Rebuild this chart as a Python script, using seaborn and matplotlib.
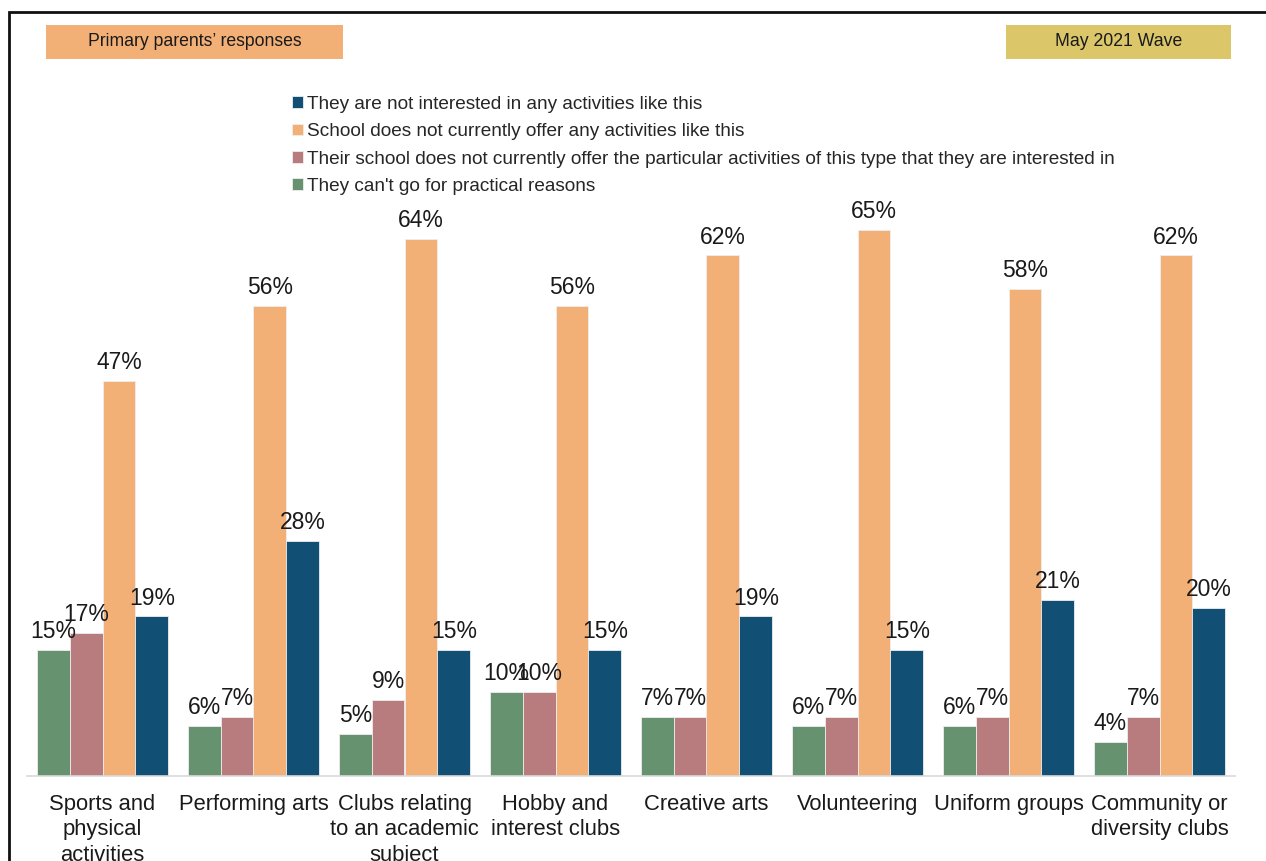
import matplotlib
matplotlib.use("Agg")
import matplotlib.pyplot as plt
from matplotlib.patches import Rectangle
import seaborn as sns
import pandas as pd

categories = [
    "Sports and\nphysical\nactivities",
    "Performing arts",
    "Clubs relating\nto an academic\nsubject",
    "Hobby and\ninterest clubs",
    "Creative arts",
    "Volunteering",
    "Uniform groups",
    "Community or\ndiversity clubs",
]
series_names = [
    "They can't go for practical reasons",
    "Their school does not currently offer the particular activities of this type that they are interested in",
    "School does not currently offer any activities like this",
    "They are not interested in any activities like this",
]
practical = [15, 6, 5, 10, 7, 6, 6, 4]
particular = [17, 7, 9, 10, 7, 7, 7, 7]
no_offer = [47, 56, 64, 56, 62, 65, 58, 62]
not_interested = [19, 28, 15, 15, 19, 15, 21, 20]
colors = ["#669270", "#B97C7E", "#F2B077", "#124F74"]

rows = []
for name, vals in zip(series_names, [practical, particular, no_offer, not_interested]):
    for cat, v in zip(categories, vals):
        rows.append({"category": cat, "reason": name, "value": v})
df = pd.DataFrame(rows)

sns.set_theme(style="white")
plt.rcParams["font.family"] = ["Liberation Sans", "DejaVu Sans"]

W, H = 1266, 861
fig = plt.figure(figsize=(W / 100, H / 100), dpi=100)
ax = fig.add_axes([27 / W, (H - 776) / H, (1235 - 27) / W, (776 - 190) / H])

sns.barplot(data=df, x="category", y="value", hue="reason", order=categories,
            hue_order=series_names, palette=colors, width=0.87, ax=ax,
            saturation=1, edgecolor="#EDEDED", linewidth=0.6, errorbar=None)

for cont in ax.containers:
    ax.bar_label(cont, labels=[f"{int(v)}%" for v in cont.datavalues],
                 padding=5, fontsize=16.5, color="#1a1a1a")

ax.set_xlim(-0.5, 7.5)
ax.set_ylim(0, 69.8)
ax.set_xlabel("")
ax.set_ylabel("")
ax.set_yticks([])
for s in ["top", "left", "right"]:
    ax.spines[s].set_visible(False)
ax.spines["bottom"].set_color("#D9D9D9")
ax.spines["bottom"].set_linewidth(1.2)
ax.tick_params(axis="x", length=0, pad=13, labelsize=15.8, labelcolor="#1a1a1a")
for t in ax.get_xticklabels():
    t.set_multialignment("center")
    t.set_linespacing(1.27)

handles, labels = ax.get_legend_handles_labels()
ax.get_legend().remove()
fig.legend(handles[::-1], labels[::-1], loc="upper left",
           bbox_to_anchor=(292 / W, (H - 96) / H), frameon=False,
           fontsize=13.7, handlelength=0.58, handleheight=0.58,
           handletextpad=0.21, labelspacing=0.54, borderpad=0, borderaxespad=0)

# Outer frame
fig.patches.append(Rectangle((9 / W, -0.05), 1.1, (H - 12) / H + 0.05,
                             transform=fig.transFigure, fill=False,
                             edgecolor="#111111", linewidth=2))

# Header boxes
fig.patches.append(Rectangle((46 / W, (H - 59) / H), (343 - 46) / W, 34 / H,
                             transform=fig.transFigure, facecolor="#F2B077",
                             edgecolor="none"))
fig.text((46 + 343) / 2 / W, (H - 42) / H, "Primary parents\u2019 responses",
         ha="center", va="center", fontsize=12.7, color="#1a1a1a")
fig.patches.append(Rectangle((1006 / W, (H - 59) / H), (1231 - 1006) / W, 34 / H,
                             transform=fig.transFigure, facecolor="#DBC66A",
                             edgecolor="none"))
fig.text((1006 + 1231) / 2 / W, (H - 42) / H, "May 2021 Wave",
         ha="center", va="center", fontsize=12.7, color="#1a1a1a")

fig.savefig("out.png", dpi=100)
